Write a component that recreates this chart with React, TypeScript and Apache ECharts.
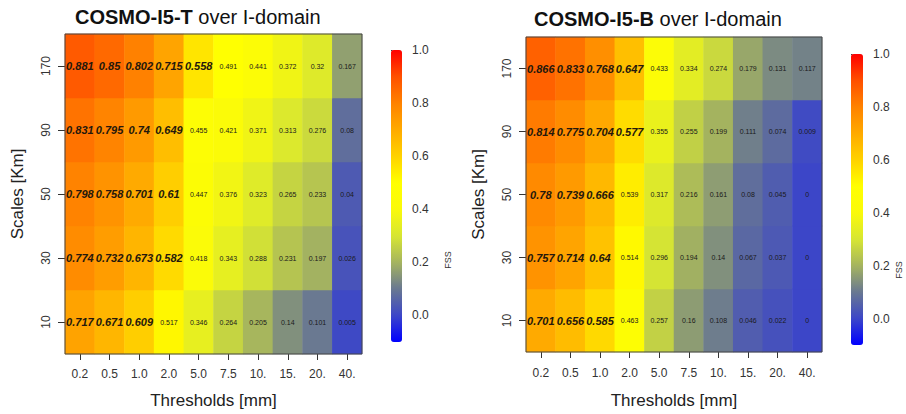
import React, { useEffect, useRef } from "react";
import * as echarts from "echarts";

const thresholds = ["0.2", "0.5", "1.0", "2.0", "5.0", "7.5", "10.", "15.", "20.", "40."];
const scales = ["10", "30", "50", "90", "170"];

// COSMO-I5-T, rows by scale (bottom to top)
const i5T_10 = [0.717, 0.671, 0.609, 0.517, 0.346, 0.264, 0.205, 0.14, 0.101, 0.005];
const i5T_30 = [0.774, 0.732, 0.673, 0.582, 0.418, 0.343, 0.288, 0.231, 0.197, 0.026];
const i5T_50 = [0.798, 0.758, 0.701, 0.61, 0.447, 0.376, 0.323, 0.265, 0.233, 0.04];
const i5T_90 = [0.831, 0.795, 0.74, 0.649, 0.455, 0.421, 0.371, 0.313, 0.276, 0.08];
const i5T_170 = [0.881, 0.85, 0.802, 0.715, 0.558, 0.491, 0.441, 0.372, 0.32, 0.167];

// COSMO-I5-B
const i5B_10 = [0.701, 0.656, 0.585, 0.463, 0.257, 0.16, 0.108, 0.046, 0.022, 0];
const i5B_30 = [0.757, 0.714, 0.64, 0.514, 0.296, 0.194, 0.14, 0.067, 0.037, 0];
const i5B_50 = [0.78, 0.739, 0.666, 0.539, 0.317, 0.216, 0.161, 0.08, 0.045, 0];
const i5B_90 = [0.814, 0.775, 0.704, 0.577, 0.355, 0.255, 0.199, 0.111, 0.074, 0.009];
const i5B_170 = [0.866, 0.833, 0.768, 0.647, 0.433, 0.334, 0.274, 0.179, 0.131, 0.117];

const fssMin = -0.1;
const fssMax = 1.0;
const fssTicks = [0, 0.2, 0.4, 0.6, 0.8, 1.0];
// colours at -0.1, 0.0, 0.1 ... 1.0
const fssColors = [
  "#0000ff", "#3c46c8", "#697891", "#a5b45f", "#d7e632", "#fafa0a",
  "#ffff00", "#ffd200", "#ffaa00", "#ff8200", "#ff5000", "#ff0000",
];
const boldThreshold = 0.55;

const FONT = "'Liberation Sans', Arial, Helvetica, sans-serif";

function toCells(rows: number[][]) {
  const out: number[][] = [];
  rows.forEach((row, j) => row.forEach((v, i) => out.push([i, j, v])));
  return out;
}

export default function App() {
  const ref = useRef<HTMLDivElement>(null);
  useEffect(() => {
    if (!ref.current) return;
    const chart = echarts.init(ref.current, undefined, { renderer: "svg" });
    const dataT = toCells([i5T_10, i5T_30, i5T_50, i5T_90, i5T_170]);
    const dataB = toCells([i5B_10, i5B_30, i5B_50, i5B_90, i5B_170]);

    const plotGrids = [
      { left: 65, top: 34, width: 297, height: 324 },
      { left: 526, top: 37, width: 296, height: 323 },
    ];
    const barGrids = [
      { left: 391, top: 50, width: 11, height: 292 },
      { left: 851, top: 54, width: 12, height: 291 },
    ];

    const catX = (gi: number, labelMargin: number, nameGap: number) => ({
      type: "category",
      gridIndex: gi,
      data: thresholds,
      axisLine: { show: false },
      axisTick: { show: true, alignWithLabel: true, length: 6, lineStyle: { color: "#333" } },
      axisLabel: { margin: labelMargin, fontSize: 12, color: "#333", fontFamily: FONT },
      name: "Thresholds [mm]",
      nameLocation: "middle",
      nameGap,
      nameTextStyle: { fontSize: 17, color: "#222", fontFamily: FONT },
      splitLine: { show: false },
    });
    const catY = (gi: number) => ({
      type: "category",
      gridIndex: gi,
      data: scales,
      axisLine: { show: false },
      axisTick: { show: true, alignWithLabel: true, length: 7, lineStyle: { color: "#333" } },
      axisLabel: { margin: 13, rotate: 90, fontSize: 12, color: "#333", fontFamily: FONT },
      name: "Scales [Km]",
      nameLocation: "middle",
      nameRotate: 90,
      nameGap: 39,
      nameTextStyle: { fontSize: 17, color: "#222", fontFamily: FONT },
      splitLine: { show: false },
    });
    const barX = (gi: number) => ({ type: "value", gridIndex: gi, show: false, min: 0, max: 1 });
    const barY = (gi: number) => ({
      type: "value",
      gridIndex: gi,
      position: "right",
      min: fssMin,
      max: fssMax,
      axisLine: { show: false },
      axisTick: { show: true, length: 7, customValues: fssTicks, lineStyle: { color: "#333" } },
      axisLabel: {
        show: true,
        margin: 10,
        fontSize: 12,
        color: "#333",
        fontFamily: FONT,
        customValues: fssTicks,
        formatter: (v: number) => v.toFixed(1),
      },
      splitLine: { show: false },
    });

    const labelCfg = {
      show: true,
      color: "#1a1a1a",
      fontFamily: FONT,
      formatter: (p: any) => {
        const v = p.value[2];
        return v >= boldThreshold ? `{b|${v}}` : `{s|${v}}`;
      },
      rich: {
        b: { fontSize: 11, fontWeight: "bold", fontStyle: "italic", color: "#24180c", fontFamily: FONT },
        s: { fontSize: 7, color: "#1a1a1a", fontFamily: FONT },
      },
    };

    const vm = (si: number, g: any) => ({
      type: "continuous",
      seriesIndex: si,
      min: fssMin,
      max: fssMax,
      calculable: false,
      realtime: false,
      orient: "vertical",
      itemWidth: g.width,
      itemHeight: g.height,
      left: g.left,
      top: g.top,
      padding: 0,
      inRange: { color: fssColors },
      textStyle: { color: "transparent" },
      text: undefined,
      showLabel: false,
    });

    chart.setOption({
      animation: false,
      backgroundColor: "#ffffff",
      textStyle: { fontFamily: FONT },
      title: [
        {
          text: "{b|COSMO-I5-T}{n| over I-domain}",
          left: 75,
          top: 7,
          padding: 0,
          textStyle: {
            rich: {
              b: { fontSize: 20, fontWeight: "bold", color: "#111", fontFamily: FONT },
              n: { fontSize: 20, fontWeight: "normal", color: "#111", fontFamily: FONT },
            },
          },
        },
        {
          text: "{b|COSMO-I5-B}{n| over I-domain}",
          left: 534,
          top: 9,
          padding: 0,
          textStyle: {
            rich: {
              b: { fontSize: 20, fontWeight: "bold", color: "#111", fontFamily: FONT },
              n: { fontSize: 20, fontWeight: "normal", color: "#111", fontFamily: FONT },
            },
          },
        },
      ],
      grid: [
        { ...plotGrids[0], show: true, backgroundColor: "transparent", borderColor: "#444", borderWidth: 1, z: 5 },
        { ...plotGrids[1], show: true, backgroundColor: "transparent", borderColor: "#444", borderWidth: 1, z: 5 },
        { ...barGrids[0], show: false },
        { ...barGrids[1], show: false },
      ],
      xAxis: [catX(0, 14, 38), catX(1, 15, 40), barX(2), barX(3)],
      yAxis: [catY(0), catY(1), barY(2), barY(3)],
      visualMap: [vm(0, barGrids[0]), vm(1, barGrids[1])],
      graphic: [
        {
          type: "text",
          x: 448,
          y: 260,
          rotation: Math.PI / 2,
          style: { text: "FSS", fontSize: 9, fill: "#333", fontFamily: FONT, align: "center", verticalAlign: "middle" },
        },
        {
          type: "text",
          x: 899,
          y: 270,
          rotation: Math.PI / 2,
          style: { text: "FSS", fontSize: 9, fill: "#333", fontFamily: FONT, align: "center", verticalAlign: "middle" },
        },
      ],
      series: [
        {
          type: "heatmap",
          xAxisIndex: 0,
          yAxisIndex: 0,
          data: dataT,
          label: labelCfg,
          itemStyle: { borderWidth: 0 },
          emphasis: { disabled: true },
        },
        {
          type: "heatmap",
          xAxisIndex: 1,
          yAxisIndex: 1,
          data: dataB,
          label: labelCfg,
          itemStyle: { borderWidth: 0 },
          emphasis: { disabled: true },
        },
      ],
    });
    return () => chart.dispose();
  }, []);
  return (
    <div
      ref={ref}
      style={{ position: "fixed", left: 0, top: 0, width: 906, height: 414, background: "#fff" }}
    />
  );
}
